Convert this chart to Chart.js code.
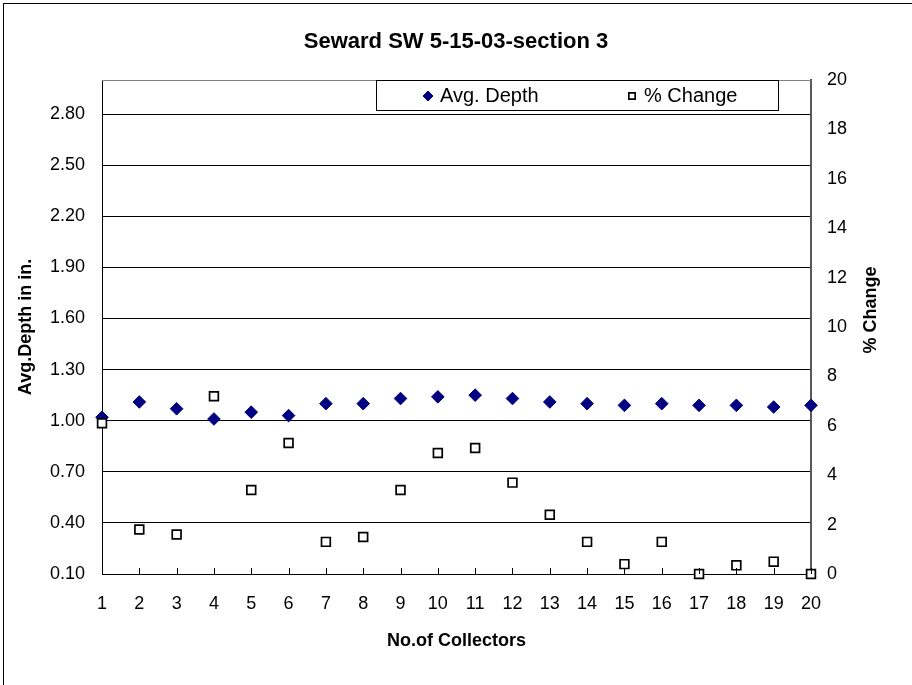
<!DOCTYPE html>
<html>
<head>
<meta charset="utf-8">
<script src="https://cdn.jsdelivr.net/npm/chart.js@4.4.0/dist/chart.umd.min.js"></script>
<style>
  body { margin: 0; background: #fff; }
  canvas { display: block; }
</style>
</head>
<body>
<canvas id="chart" width="912" height="685"></canvas>
<script>
// Seward SW 5-15-03 section 3

var collectors = [1, 2, 3, 4, 5, 6, 7, 8, 9, 10, 11, 12, 13, 14, 15, 16, 17, 18, 19, 20];
var avgDepth = [1.02, 1.11, 1.07, 1.01, 1.05, 1.03, 1.10, 1.10, 1.13, 1.14,
                1.15, 1.13, 1.11, 1.10, 1.09, 1.10, 1.09, 1.09, 1.08, 1.09];
var pctChange = [6.1, 1.8, 1.6, 7.2, 3.4, 5.3, 1.3, 1.5, 3.4, 4.9,
                 5.1, 3.7, 2.4, 1.3, 0.4, 1.3, 0, 0.35, 0.5, 0];
var depthTicks = [0.10, 0.40, 0.70, 1.00, 1.30, 1.60, 1.90, 2.20, 2.50, 2.80];
var pctTicks = [0, 2, 4, 6, 8, 10, 12, 14, 16, 18, 20];

var FONT = '"Liberation Sans", Arial, sans-serif';
Chart.defaults.font.family = FONT;
Chart.defaults.color = '#000';

function points(ys) {
    return collectors.map(function (x, i) { return { x: x, y: ys[i] }; });
}

// frame, plot border, inner x ticks, right title, legend box
var extras = {
    id: 'extras',
    beforeDraw: function (chart) {
        var c = chart.ctx;
        c.save();
        c.fillStyle = '#fff';
        c.fillRect(0, 0, chart.width, chart.height);
        c.strokeStyle = '#000';
        c.lineWidth = 1;
        c.strokeRect(3.5, 3.5, chart.width + 10, chart.height + 10);
        c.restore();
    },
    afterDraw: function (chart) {
        var c = chart.ctx, a = chart.chartArea, xs = chart.scales.x;
        c.save();
        // top border of plot
        c.strokeStyle = '#808080';
        c.lineWidth = 1;
        c.beginPath();
        c.moveTo(a.left, Math.round(a.top) + 0.5);
        c.lineTo(a.right, Math.round(a.top) + 0.5);
        c.stroke();
        // x tick marks pointing into the plot
        c.strokeStyle = '#000';
        xs.ticks.forEach(function (t) {
            var px = Math.round(xs.getPixelForValue(t.value)) + 0.5;
            c.beginPath();
            c.moveTo(px, a.bottom);
            c.lineTo(px, a.bottom - 6);
            c.stroke();
        });
        // right axis title, reading upwards
        c.font = 'bold 18px ' + FONT;
        c.fillStyle = '#000';
        c.textAlign = 'center';
        c.textBaseline = 'middle';
        c.translate(871, 310);
        c.rotate(-Math.PI / 2);
        c.fillText('% Change', 0, 0);
        c.restore();

        // legend
        c.save();
        c.fillStyle = '#fff';
        c.fillRect(376.5, 80.5, 402, 30);
        c.strokeStyle = '#000';
        c.lineWidth = 1;
        c.strokeRect(376.5, 80.5, 402, 30);
        c.font = '20px ' + FONT;
        c.textBaseline = 'middle';
        c.textAlign = 'left';
        var items = [{ ds: 0, mx: 428, tx: 440 }, { ds: 1, mx: 632, tx: 644 }];
        items.forEach(function (it) {
            var ds = chart.data.datasets[it.ds];
            Chart.helpers.drawPoint(c, {
                pointStyle: ds.pointStyle,
                radius: it.ds === 0 ? 5 : 4.5,
                borderWidth: ds.borderWidth
            }, it.mx, 96);
            c.fillStyle = ds.backgroundColor;
            c.strokeStyle = ds.borderColor;
            c.lineWidth = ds.borderWidth;
            c.fill();
            c.stroke();
            c.fillStyle = '#000';
            c.fillText(ds.label, it.tx, 96);
        });
        c.restore();
    }
};

new Chart(document.getElementById('chart'), {
    type: 'scatter',
    data: {
        datasets: [{
            label: 'Avg. Depth',
            data: points(avgDepth),
            yAxisID: 'y',
            pointStyle: 'rectRot',
            pointRadius: 6.3,
            pointHoverRadius: 6.3,
            backgroundColor: '#000080',
            borderColor: '#000080',
            borderWidth: 1,
            order: 1,
            clip: false
        }, {
            label: '% Change',
            data: points(pctChange),
            yAxisID: 'y2',
            pointStyle: 'rect',
            pointRadius: 6.2,
            pointHoverRadius: 6.2,
            backgroundColor: '#fff',
            borderColor: '#000',
            borderWidth: 1.7,
            order: 0,
            clip: false
        }]
    },
    options: {
        responsive: false,
        devicePixelRatio: 1,
        animation: false,
        layout: { padding: 0 },
        plugins: {
            legend: { display: false },
            tooltip: { enabled: false },
            title: {
                display: true,
                text: 'Seward SW 5-15-03-section 3',
                font: { size: 22, weight: 'bold', lineHeight: 1.2 },
                color: '#000',
                padding: { top: 28.8, bottom: 24.8 }
            }
        },
        scales: {
            x: {
                type: 'linear',
                min: 1,
                max: 20,
                ticks: { stepSize: 1, font: { size: 18 }, padding: 19, maxRotation: 0 },
                grid: { display: false, drawTicks: false },
                border: { display: true, color: '#000', width: 1 },
                title: {
                    display: true,
                    text: 'No.of Collectors',
                    font: { size: 18, weight: 'bold' },
                    padding: { top: 0, bottom: 33 }
                },
                afterFit: function (s) { s.height = 111; }
            },
            y: {
                position: 'left',
                min: 0.1,
                max: 3.0,
                afterBuildTicks: function (s) {
                    s.ticks = depthTicks.map(function (v) { return { value: v }; });
                },
                ticks: {
                    font: { size: 18 },
                    padding: 17,
                    callback: function (v) { return Number(v).toFixed(2); }
                },
                grid: { color: '#000', lineWidth: 1, drawTicks: false },
                border: { display: true, color: '#000', width: 1 },
                title: {
                    display: true,
                    text: 'Avg.Depth in in.',
                    font: { size: 18, weight: 'bold' },
                    padding: { top: 15.2, bottom: 0 }
                },
                afterFit: function (s) { s.width = 102; }
            },
            y2: {
                position: 'right',
                min: 0,
                max: 20,
                afterBuildTicks: function (s) {
                    s.ticks = pctTicks.map(function (v) { return { value: v }; });
                },
                ticks: { font: { size: 18 }, padding: 16 },
                grid: { display: false, drawTicks: false },
                border: { display: true, color: '#595959', width: 2 },
                afterFit: function (s) { s.width = 101; }
            }
        }
    },
    plugins: [extras]
});
</script>
</body>
</html>
